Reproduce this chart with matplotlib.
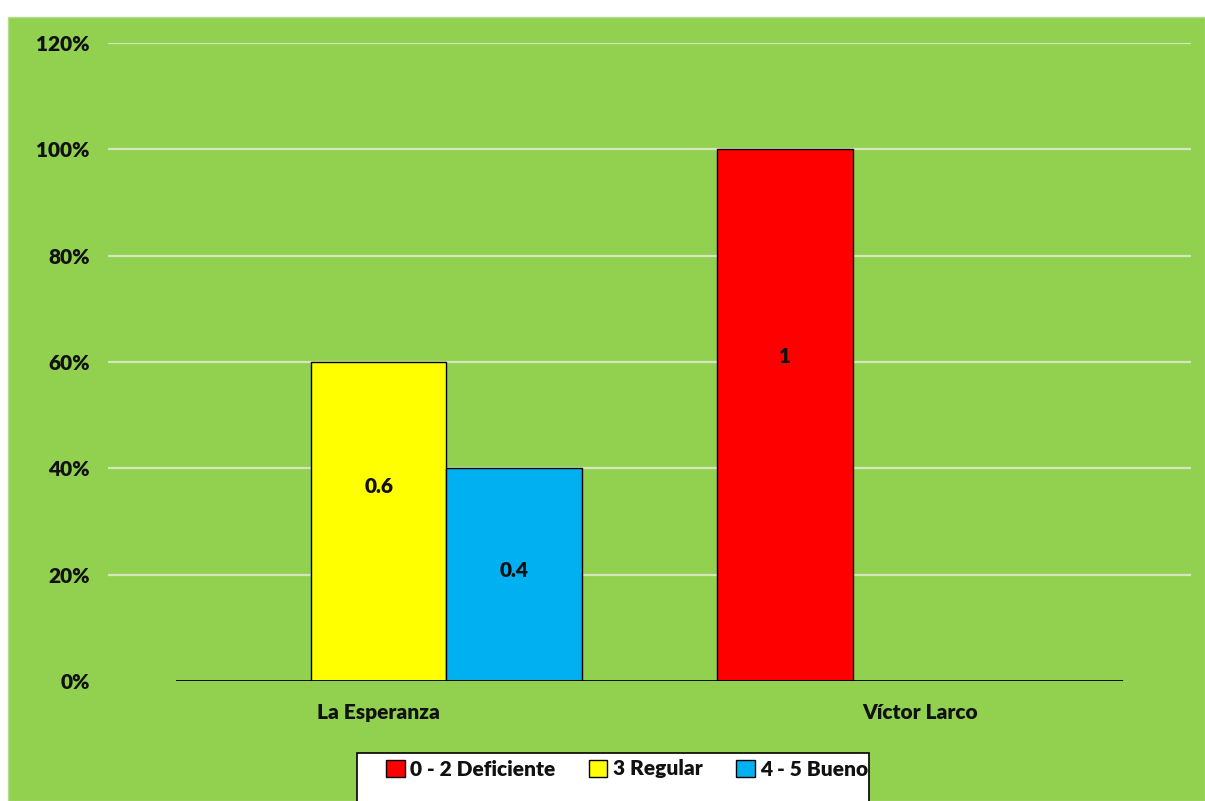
import numpy as np
import matplotlib.pyplot as plt
from matplotlib.patches import Rectangle

categories = ['La Esperanza', 'Víctor Larco']
series = ['0 - 2 Deficiente', '3 Regular', '4 - 5 Bueno']
deficiente = [0.0, 1.0]
regular = [0.6, 0.0]
bueno = [0.4, 0.0]
values = [deficiente, regular, bueno]
colors = ['#FF0000', '#FFFF00', '#00B0F0']
yticks = [0, 0.2, 0.4, 0.6, 0.8, 1.0, 1.2]

plt.rcParams['font.family'] = ['Lato', 'DejaVu Sans']
plt.rcParams['font.weight'] = 'bold'

W, H = 1205, 801
fig = plt.figure(figsize=(W / 100, H / 100), dpi=100)
fig.patch.set_facecolor('white')
# green chart area
fig.patches.append(Rectangle((8 / W, 0), 1 - 8 / W, (H - 17) / H, transform=fig.transFigure,
                             facecolor='#92D050', edgecolor='#B5DC8C', lw=1, zorder=-10))

ax = fig.add_axes([108 / W, (H - 681) / H, 1083 / W, 638 / H])
ax.set_facecolor('none')
for s in ax.spines.values():
    s.set_visible(False)

x = np.arange(len(categories))
width = 0.25
label_frac = [0.61, 0.61, 0.52]
for i, (name, vals, c) in enumerate(zip(series, values, colors)):
    pos = x + (i - 1) * width
    ax.bar(pos, vals, width, color=c, edgecolor='black', linewidth=1.0, label=name, zorder=3)
    for p, v in zip(pos, vals):
        if v > 0:
            ax.text(p, v * label_frac[i], f'{v:g}', ha='center', va='center',
                    fontsize=15, fontweight='heavy', color='#111111', zorder=4)

# gridlines
ax.hlines(yticks[1:], -0.5, 1.5, colors='#D3E6BE', linewidth=1.6, zorder=1)
# category axis line
ax.hlines(0, x[0] - 1.5 * width, x[-1] + 1.5 * width, colors='black', linewidth=1.3, zorder=5)

ax.set_xlim(-0.5, 1.5)
ax.set_ylim(0, 1.2)
ax.set_yticks(yticks)
ax.set_yticklabels([f'{int(round(t * 100))}%' for t in yticks], fontsize=15, fontweight='heavy',
                   color='#111111')
ax.set_xticks(x)
ax.set_xticklabels(categories, fontsize=15, fontweight='heavy', color='#111111')
ax.tick_params(axis='y', length=0, pad=13)
ax.tick_params(axis='x', length=0, pad=16)

# legend box (cut off at bottom edge)
fig.patches.append(Rectangle((357 / W, -0.05), 512 / W, 0.05 + (H - 753) / H, transform=fig.transFigure,
                             facecolor='white', edgecolor='black', lw=1.2, zorder=1))
leg = fig.legend(loc='center', bbox_to_anchor=(627 / W, (H - 769) / H), ncol=3, frameon=False,
                 fontsize=15, handlelength=0.9, handleheight=0.9, handletextpad=0.25,
                 columnspacing=1.6, borderaxespad=0)
leg.set_zorder(5)
for t in leg.get_texts():
    t.set_fontweight('heavy')
    t.set_color('#111111')

fig.savefig('out.png', dpi=100, facecolor=fig.get_facecolor())
